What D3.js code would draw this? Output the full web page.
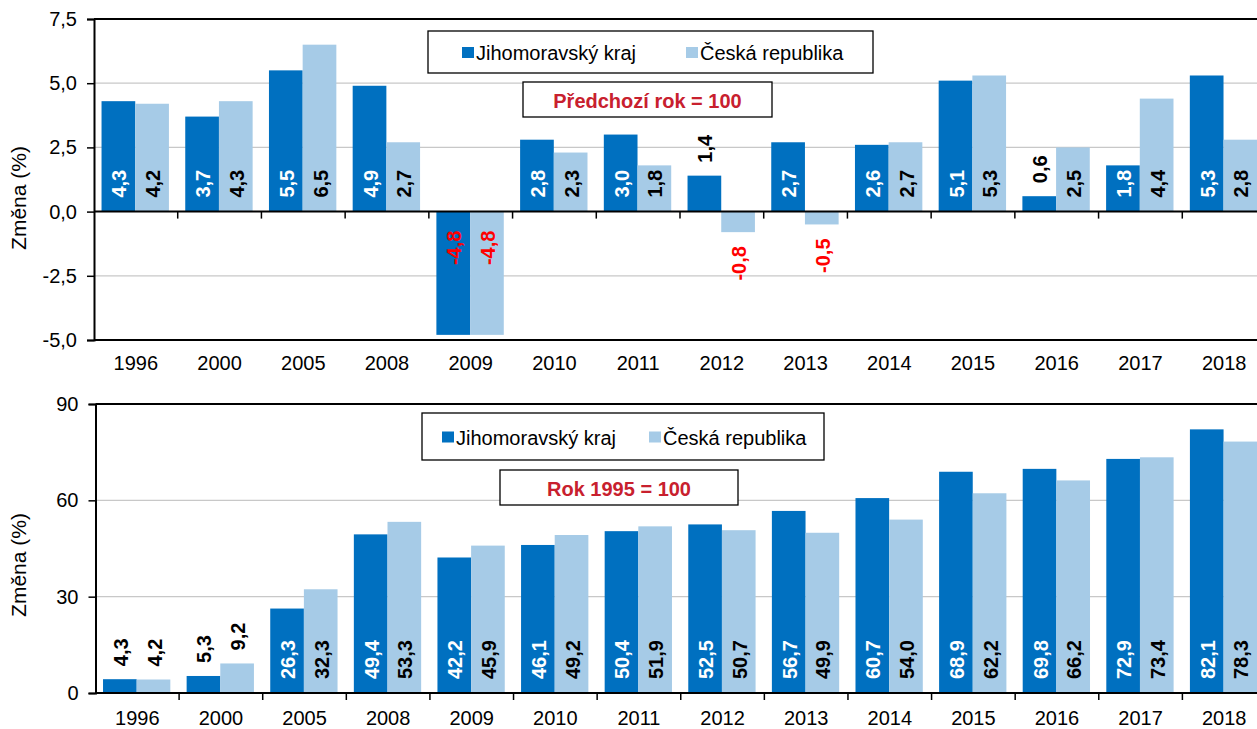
<!DOCTYPE html>
<html><head><meta charset="utf-8">
<script src="https://cdn.jsdelivr.net/npm/d3@7"></script>
<style>
body{margin:0;background:#fff;}
svg{display:block;font-family:"Liberation Sans",Arial,sans-serif;}
</style></head>
<body><svg id="c" width="1257" height="729"></svg>
<script>
const years = ["1996","2000","2005","2008","2009","2010","2011","2012","2013","2014","2015","2016","2017","2018"];
const seriesNames = ["Jihomoravský kraj","Česká republika"];
// Předchozí rok = 100
const prevJMK = [4.3,3.7,5.5,4.9,-4.8,2.8,3.0,1.4,2.7,2.6,5.1,0.6,1.8,5.3];
const prevCR  = [4.2,4.3,6.5,2.7,-4.8,2.3,1.8,-0.8,-0.5,2.7,5.3,2.5,4.4,2.8];
// Rok 1995 = 100
const baseJMK = [4.3,5.3,26.3,49.4,42.2,46.1,50.4,52.5,56.7,60.7,68.9,69.8,72.9,82.1];
const baseCR  = [4.2,9.2,32.3,53.3,45.9,49.2,51.9,50.7,49.9,54.0,62.2,66.2,73.4,78.3];
const topTicks = [-5,-2.5,0,2.5,5,7.5];
const botTicks = [0,30,60,90];
const titleTop = "Předchozí rok = 100";
const titleBot = "Rok 1995 = 100";
const yTitle = "Změna (%)";

const colors = ["#0070c0","#a6cbe7"];
const svg = d3.select("#c");
const fmt1 = v => d3.format(".1f")(v).replace(".",",").replace("−","-");

function panel(o){
  const g = svg.append("g");
  const x = d3.scaleBand().domain(years).range([o.left,o.right]).paddingInner(0).paddingOuter(0);
  const y = d3.scaleLinear().domain(o.domain).range([o.bottom,o.top]);
  const inner = d3.scaleBand().domain([0,1]).range([x.bandwidth()*0.09, x.bandwidth()*0.895]);
  // gridlines
  g.append("g").selectAll("line").data(o.ticks.filter(t=>t!==o.domain[1] && t!==0 && t!==o.domain[0]))
    .join("line").attr("x1",o.left).attr("x2",o.right+10).attr("y1",d=>y(d)).attr("y2",d=>y(d))
    .attr("stroke","#c8c8c8").attr("stroke-width",1.3);
  // bars
  const data = [];
  years.forEach((yr,i)=>{ o.series.forEach((s,j)=>data.push({yr,j,v:s[i]})); });
  g.append("g").selectAll("rect").data(data).join("rect")
    .attr("x",d=>x(d.yr)+inner(d.j)).attr("width",inner.bandwidth())
    .attr("y",d=>y(Math.max(0,d.v))).attr("height",d=>Math.abs(y(d.v)-y(0)))
    .attr("fill",d=>colors[d.j]);
  // frame lines
  g.append("line").attr("x1",o.left).attr("x2",o.right+10).attr("y1",y(o.domain[1])).attr("y2",y(o.domain[1])).attr("stroke","#000").attr("stroke-width",2);
  g.append("line").attr("x1",o.left).attr("x2",o.right+10).attr("y1",y(o.domain[0])).attr("y2",y(o.domain[0])).attr("stroke","#000").attr("stroke-width",2);
  // y axis
  const ya = d3.axisLeft(y).tickValues(o.ticks).tickSize(7).tickPadding(10).tickFormat(o.tfmt);
  const yg = g.append("g").attr("transform",`translate(${o.left},0)`).call(ya);
  yg.select(".domain").attr("stroke-width",2);
  yg.selectAll(".tick line").attr("stroke-width",1.5);
  yg.selectAll("text").attr("font-size",20).attr("fill","#000").attr("font-family","Liberation Sans, Arial, sans-serif");
  // x axis at zero
  const xa = d3.axisBottom(x).tickSize(7).tickFormat("");
  const xg = g.append("g").attr("transform",`translate(0,${y(0)})`).call(xa);
  xg.select(".domain").remove();
  g.append("line").attr("x1",o.left).attr("x2",o.right+10).attr("y1",y(0)).attr("y2",y(0)).attr("stroke","#000").attr("stroke-width",2);
  // ticks at boundaries
  xg.selectAll(".tick").remove();
  xg.selectAll("line.b").data(years.slice(1)).join("line").attr("class","b")
    .attr("x1",d=>x(d)).attr("x2",d=>x(d)).attr("y1",0).attr("y2",7).attr("stroke","#000").attr("stroke-width",1.5);
  // x labels
  g.append("g").selectAll("text").data(years).join("text")
    .attr("x",d=>x(d)+x.bandwidth()/2).attr("y",o.bottom+o.labOff)
    .attr("text-anchor","middle").attr("dominant-baseline","central").attr("font-size",20).text(d=>d);
  // y title
  g.append("text").attr("transform",`translate(18,${o.ytc}) rotate(-90)`).attr("text-anchor","middle")
    .attr("dominant-baseline","central").attr("font-size",21).text(yTitle);
  // bar labels
  g.append("g").selectAll("text").data(data).join("text")
    .each(function(d){
      const cx = x(d.yr)+inner(d.j)+inner.bandwidth()/2;
      const hPx = Math.abs(y(d.v)-y(0));
      const outside = hPx < o.minInside;
      let py, anchor, fill;
      if(d.v>=0){
        if(outside){ py = y(d.v)-13; anchor="start"; fill="#000"; }
        else { py = y(0)-14; anchor="start"; fill = d.j===0?"#fff":"#000"; }
      } else {
        if(outside){ py = y(d.v)+14; anchor="end"; fill="#ff0000"; }
        else { py = y(0)+19; anchor="end"; fill="#ff0000"; }
      }
      d3.select(this).attr("transform",`translate(${cx+1},${py}) rotate(-90)`)
        .attr("text-anchor",anchor).attr("dominant-baseline","central")
        .attr("font-size",20).attr("font-weight","bold").attr("fill",fill).text(fmt1(d.v));
    });
  // legend
  const L = o.legend;
  g.append("rect").attr("x",L.x).attr("y",L.y).attr("width",L.w).attr("height",L.h).attr("fill","#fff").attr("stroke","#000").attr("stroke-width",1.3);
  seriesNames.forEach((n,j)=>{
    g.append("rect").attr("x",L.items[j]).attr("y",L.y+L.h/2-5).attr("width",12).attr("height",11).attr("fill",colors[j]);
    g.append("text").attr("x",L.items[j]+14).attr("y",L.y+L.h/2+1).attr("dominant-baseline","central").attr("font-size",20).text(n);
  });
  const T = o.tbox;
  g.append("rect").attr("x",T.x).attr("y",T.y).attr("width",T.w).attr("height",T.h).attr("fill","#fff").attr("stroke","#000").attr("stroke-width",1.3);
  g.append("text").attr("x",T.x+T.w/2).attr("y",T.y+T.h/2+1).attr("text-anchor","middle").attr("dominant-baseline","central")
    .attr("font-size",20).attr("font-weight","bold").attr("fill","#c8202e").text(T.text);
}

panel({left:94,right:1266,top:19,bottom:340,domain:[-5,7.5],ticks:topTicks,tfmt:d=>fmt1(d),
  series:[prevJMK,prevCR],minInside:42,labOff:23,ytc:198,
  legend:{x:428,y:31,w:445,h:42,items:[462,686]},
  tbox:{x:523,y:82,w:249,h:35,text:titleTop}});
panel({left:95.5,right:1266,top:404,bottom:693,domain:[0,90],ticks:botTicks,tfmt:d=>String(d),
  series:[baseJMK,baseCR],minInside:42,labOff:25,ytc:565,
  legend:{x:422,y:413,w:402,h:47,items:[442,649]},
  tbox:{x:500,y:470,w:238,h:35,text:titleBot}});
</script></body></html>
